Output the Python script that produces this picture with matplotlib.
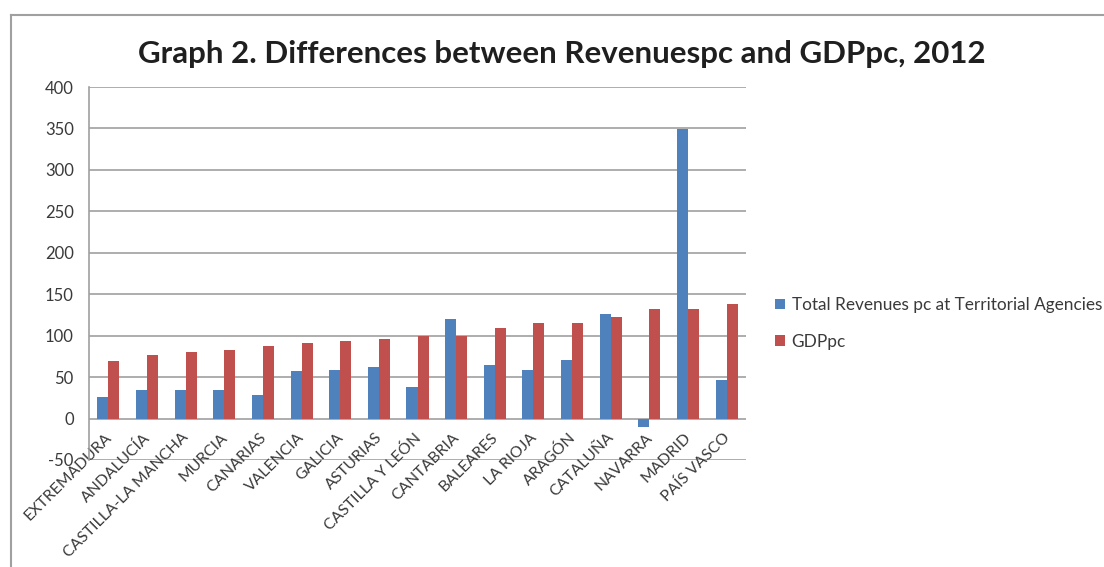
import matplotlib
matplotlib.use("Agg")
import matplotlib.pyplot as plt
import matplotlib.transforms as mtransforms
from matplotlib.lines import Line2D
import numpy as np

plt.rcParams['font.family'] = ['Lato', 'DejaVu Sans']

regions = ["EXTREMADURA", "ANDALUCÍA", "CASTILLA-LA MANCHA", "MURCIA", "CANARIAS",
           "VALENCIA", "GALICIA", "ASTURIAS", "CASTILLA Y LEÓN", "CANTABRIA",
           "BALEARES", "LA RIOJA", "ARAGÓN", "CATALUÑA", "NAVARRA", "MADRID",
           "PAÍS VASCO"]
revenues_pc = [26, 34, 34, 34, 29, 57, 59, 62, 38, 120, 65, 58, 71, 126, -10, 349, 47]
gdp_pc = [70, 77, 80, 83, 88, 91, 94, 96, 100, 100, 109, 115, 115, 123, 132, 132, 138]
y_ticks = [-50, 0, 50, 100, 150, 200, 250, 300, 350, 400]
series_names = ["Total Revenues pc at Territorial Agencies", "GDPpc"]

W, H = 1104, 567
fig = plt.figure(figsize=(W / 100, H / 100), dpi=100)
ax = fig.add_axes([89 / W, 1 - 460 / H, (746 - 89) / W, (460 - 87) / H])

grid_c = "#a0a0a0"
text_c = "#3a3a3a"

x = np.arange(len(regions))
bw = 0.285
ax.bar(x - bw / 2, revenues_pc, width=bw, color="#4F81BD", label=series_names[0], zorder=3)
ax.bar(x + bw / 2, gdp_pc, width=bw, color="#C0504D", label=series_names[1], zorder=3)

ax.set_xlim(-0.5, len(regions) - 0.5)
ax.set_ylim(-50, 400)
ax.set_yticks(y_ticks)
ax.set_yticklabels([str(v) for v in y_ticks])
for v in y_ticks:
    ax.axhline(v, color=grid_c, lw=1.2, zorder=1)

for s in ["top", "right", "bottom"]:
    ax.spines[s].set_visible(False)
ax.spines["left"].set_color(grid_c)
ax.spines["left"].set_linewidth(1.2)

ax.tick_params(axis="y", length=0, pad=11, labelsize=12, labelcolor=text_c)
ax.set_xticks(x)
ax.set_xticklabels(regions)
ax.tick_params(axis="x", length=0, pad=0, labelsize=11.3, labelcolor=text_c)
ax.xaxis.set_ticks_position("bottom")
ax.spines["bottom"].set_position(("data", 0))
offset = mtransforms.ScaledTranslation(-4 / 100, -12 / 100, fig.dpi_scale_trans)
for lbl in ax.get_xticklabels():
    lbl.set_rotation(45)
    lbl.set_ha("right")
    lbl.set_va("top")
    lbl.set_rotation_mode("anchor")
    lbl.set_transform(lbl.get_transform() + offset)

fig.text(562 / W, 1 - 63 / H, "Graph 2. Differences between Revenuespc and GDPpc, 2012",
         ha="center", va="baseline", fontsize=22.5, fontweight="bold", color="#1f1f1f")

leg = ax.legend(loc="upper left", bbox_to_anchor=(775 / W, 1 - 297 / H),
                bbox_transform=fig.transFigure, frameon=False, fontsize=12.4,
                handlelength=0.58, handleheight=0.58, handletextpad=0.38,
                labelspacing=1.2, borderaxespad=0, borderpad=0)
for t in leg.get_texts():
    t.set_color(text_c)

# outer chart frame
fig.add_artist(Line2D([10.5 / W, 10.5 / W], [0, 1 - 15 / H], color="#a0a0a0", lw=1.5,
                      transform=fig.transFigure))
fig.add_artist(Line2D([10.5 / W, 1], [1 - 15 / H, 1 - 15 / H], color="#a0a0a0", lw=1.5,
                      transform=fig.transFigure))

fig.savefig("out.png", dpi=100)
